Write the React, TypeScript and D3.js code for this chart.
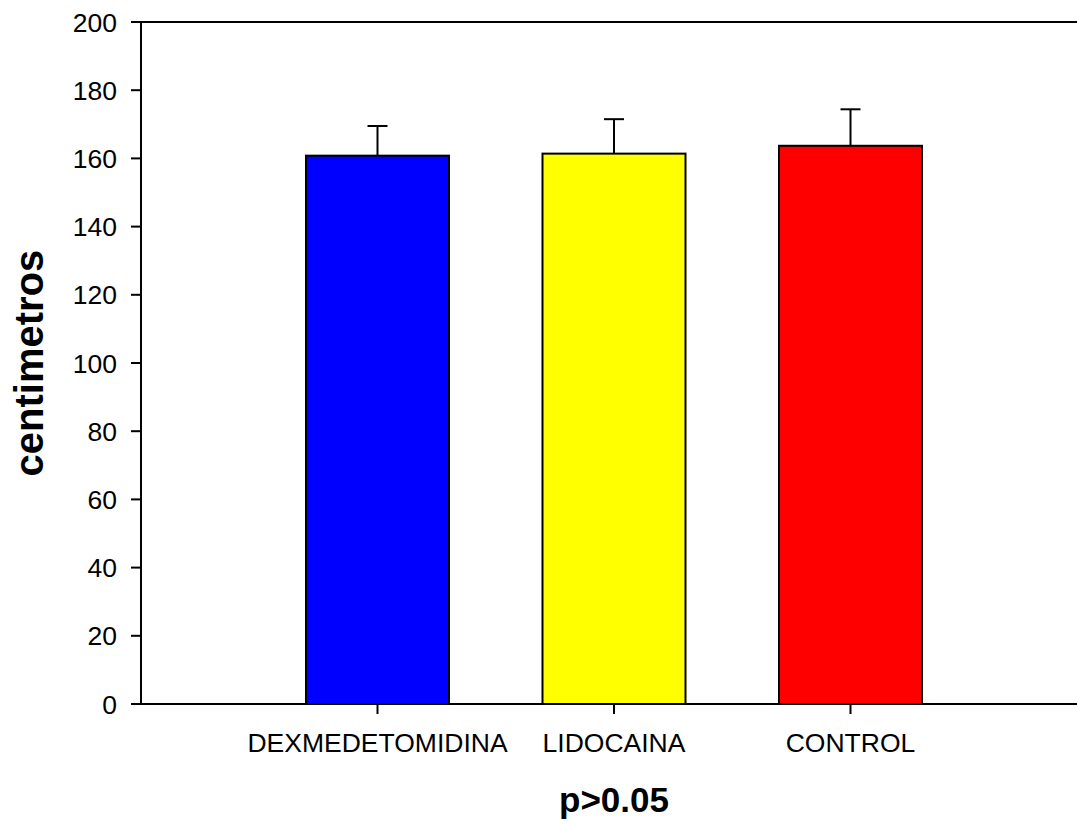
import React from 'react';
import * as d3 from 'd3';

const categories = ['DEXMEDETOMIDINA', 'LIDOCAINA', 'CONTROL'];
const means = [160.8, 161.4, 163.7];
const errors = [8.7, 10.1, 10.7];
const colors = ['#0000ff', '#ffff00', '#ff0000'];
const yTicks = [0, 20, 40, 60, 80, 100, 120, 140, 160, 180, 200];

const App = () => {
  const width = 1077;
  const height = 825;
  const left = 141;
  const top = 22;
  const bottom = 704;

  // SigmaPlot-style: categories at 1,2,3 on a 0..4 axis (right end cut off)
  const x = d3.scaleLinear().domain([0, 4]).range([left, left + 4 * 236.5]);
  const y = d3.scaleLinear().domain([0, 200]).range([bottom, top]);
  const barW = 143;
  const font = 'Arial, "Liberation Sans", sans-serif';

  return (
    <svg width={width} height={height} style={{ position: 'absolute', left: 0, top: 0, background: '#fff' }}>
      {/* bars */}
      {categories.map((c, i) => (
        <g key={c}>
          <line x1={x(i + 1)} x2={x(i + 1)} y1={y(means[i])} y2={y(means[i] + errors[i])} stroke="#000" strokeWidth={2} />
          <line x1={x(i + 1) - 10} x2={x(i + 1) + 10} y1={y(means[i] + errors[i])} y2={y(means[i] + errors[i])} stroke="#000" strokeWidth={2} />
          <rect x={x(i + 1) - barW / 2} y={y(means[i])} width={barW} height={y(0) - y(means[i])} fill={colors[i]} stroke="#000" strokeWidth={2} />
        </g>
      ))}

      {/* axes */}
      <line x1={left} x2={width} y1={top} y2={top} stroke="#000" strokeWidth={2} />
      <line x1={left} x2={width} y1={bottom} y2={bottom} stroke="#000" strokeWidth={2} />
      <line x1={left} x2={left} y1={top} y2={bottom} stroke="#000" strokeWidth={2} />

      {yTicks.map(t => (
        <g key={t}>
          <line x1={left - 10} x2={left} y1={y(t)} y2={y(t)} stroke="#000" strokeWidth={2} />
          <text x={left - 24} y={y(t)} dy="0.36em" textAnchor="end" fontFamily={font} fontSize={26.5}>{t}</text>
        </g>
      ))}

      {categories.map((c, i) => (
        <g key={c}>
          <line x1={x(i + 1)} x2={x(i + 1)} y1={bottom} y2={bottom + 10} stroke="#000" strokeWidth={2} />
          <text x={x(i + 1)} y={bottom + 48} textAnchor="middle" fontFamily={font} fontSize={26.5}>{c}</text>
        </g>
      ))}

      <text x={614} y={812} textAnchor="middle" fontFamily={font} fontSize={35} fontWeight="bold">p&gt;0.05</text>
      <text transform={`translate(43,${(top + bottom) / 2}) rotate(-90)`} textAnchor="middle" fontFamily={font} fontSize={40} fontWeight="bold">centimetros</text>
    </svg>
  );
};

export default App;
